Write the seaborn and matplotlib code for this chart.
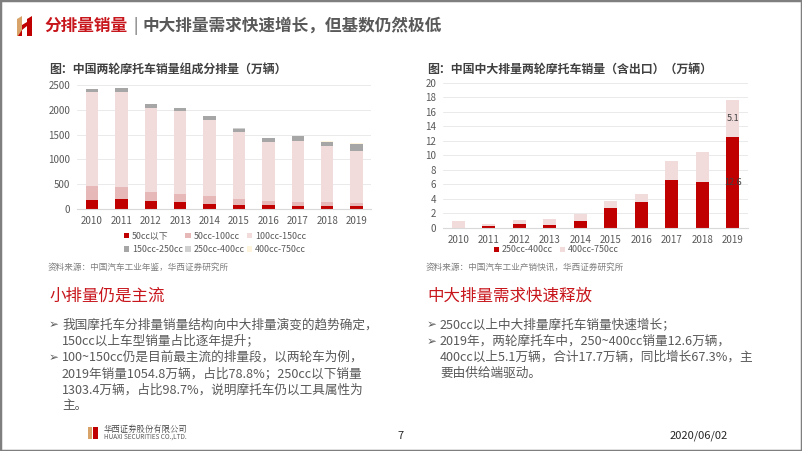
"""
华西证券 幻灯片第7页：中国两轮摩托车分排量销量 + 中大排量销量（含出口）。
两张堆叠柱状图用 seaborn.barplot 按累计值从上往下叠画。
"""
import numpy as np
import pandas as pd
import matplotlib
matplotlib.use("Agg")
import matplotlib.pyplot as plt
from matplotlib.patches import Patch, Rectangle, Polygon
import seaborn as sns

# ---- 数据（万辆，读图估计） ----
years = ["2010", "2011", "2012", "2013", "2014", "2015", "2016", "2017", "2018", "2019"]
cc_below50 = [180, 200, 170, 150, 110, 85, 75, 70, 60, 62]
cc_50_100 = [287, 253, 177, 143, 150, 115, 85, 77, 73, 60]
cc_100_150 = [1900, 1914, 1693, 1674, 1540, 1353, 1200, 1226, 1134, 1054.8]
cc_150_250 = [45, 65, 75, 68, 68, 68, 72, 92, 85, 126.6]
cc_250_400 = [0.0, 0.3, 0.6, 0.4, 0.9, 2.8, 3.6, 6.6, 6.3, 12.6]
cc_400_750 = [1.0, 0.3, 0.55, 0.9, 1.0, 0.9, 1.1, 2.7, 4.2, 5.1]

left_names = ["50cc以下", "50cc-100cc", "100cc-150cc", "150cc-250cc", "250cc-400cc", "400cc-750cc"]
left_colors = ["#C00000", "#E6B9B8", "#F2DCDB", "#A6A6A6", "#D0D0D0", "#FFF5DC"]
right_names = ["250cc-400cc", "400cc-750cc"]
right_colors = ["#C00000", "#F2DCDB"]
label_years = ["2019"]

sns.set_theme(style="white")
plt.rcParams["font.family"] = ["Noto Sans CJK SC", "DejaVu Sans"]

W, H = 802, 451
fig = plt.figure(figsize=(W / 100, H / 100), dpi=100)
fig.patch.set_facecolor("white")

DARK = "#404040"
GRAY = "#595959"
RED = "#C8161D"


def fx(x):
    return x / W


def fy(y):
    return 1 - y / H


def add_axes_px(left, top, right, bottom):
    return fig.add_axes([fx(left), fy(bottom), fx(right - left), (bottom - top) / H])


def stacked(ax, layers, colors):
    """layers: 自下而上的序列列表；按累计值从最高层开始画。"""
    cum = np.cumsum(np.array(layers, dtype=float), axis=0)
    for i in range(len(layers) - 1, -1, -1):
        d = pd.DataFrame({"year": years, "v": cum[i]})
        sns.barplot(data=d, x="year", y="v", color=colors[i], saturation=1,
                    width=0.42, linewidth=0, ax=ax, errorbar=None)
    return cum


def style_axes(ax, ylim, step):
    ax.set_ylim(*ylim)
    ax.set_xlim(-0.5, len(years) - 0.5)
    ax.set_yticks(np.arange(ylim[0], ylim[1] + step / 2, step))
    ax.yaxis.grid(True, color="#E6E6E6", linewidth=0.6)
    ax.set_axisbelow(True)
    for s in ["top", "right", "left"]:
        ax.spines[s].set_visible(False)
    ax.spines["bottom"].set_color("#D9D9D9")
    ax.spines["bottom"].set_linewidth(0.8)
    ax.tick_params(axis="both", length=0, labelsize=7, labelcolor=GRAY, pad=5)
    ax.set_xlabel("")
    ax.set_ylabel("")


# ---- 左图 ----
ax1 = add_axes_px(77.3, 85, 371.3, 209)
stacked(ax1, [cc_below50, cc_50_100, cc_100_150, cc_150_250, cc_250_400, cc_400_750], left_colors)
style_axes(ax1, (0, 2500), 500)

h = [Patch(facecolor=c, edgecolor="none") for c in left_colors]
order = [0, 3, 1, 4, 2, 5]  # 按行排列：3 列 x 2 行
fig.legend([h[i] for i in order], [left_names[i] for i in order], ncol=3,
           loc="center", bbox_to_anchor=(fx(215), fy(243)), frameon=False,
           fontsize=6.4, labelcolor=GRAY, handlelength=0.6, handleheight=0.6,
           handletextpad=0.3, columnspacing=0.3, labelspacing=0.55)

# ---- 右图 ----
ax2 = add_axes_px(443, 83, 748, 228)
cum2 = stacked(ax2, [cc_250_400, cc_400_750], right_colors)
style_axes(ax2, (0, 20), 2)
for yr in label_years:
    i = years.index(yr)
    ax2.text(i, cc_250_400[i] / 2, f"{cc_250_400[i]:.1f}", ha="center", va="center",
             fontsize=6.5, color=DARK)
    ax2.text(i, cc_250_400[i] + cc_400_750[i] / 2, f"{cc_400_750[i]:.1f}", ha="center",
             va="center", fontsize=6.5, color=DARK)

h2 = [Patch(facecolor=c, edgecolor="none") for c in right_colors]
fig.legend(h2, right_names, ncol=2, loc="center", bbox_to_anchor=(fx(556), fy(250)),
           frameon=False, fontsize=6.4, labelcolor=GRAY, handlelength=0.6,
           handleheight=0.6, handletextpad=0.3, columnspacing=0.8)

# ---- 页眉 ----
# 简化的 “H” 标志：金色左柱 + 红色右柱 + 斜横梁
fig.patches.append(Polygon([(fx(17), fy(36)), (fx(22), fy(36)), (fx(22), fy(16)), (fx(17), fy(19))],
                           closed=True, transform=fig.transFigure, fc="#D9A46A", ec="none"))
fig.patches.append(Polygon([(fx(22), fy(30)), (fx(27), fy(26)), (fx(27), fy(22)), (fx(22), fy(25))],
                           closed=True, transform=fig.transFigure, fc="#C00000", ec="none"))
fig.patches.append(Polygon([(fx(27), fy(36)), (fx(32), fy(36)), (fx(32), fy(16)), (fx(27), fy(19))],
                           closed=True, transform=fig.transFigure, fc="#C00000", ec="none"))
fig.patches.append(Polygon([(fx(18), fy(36)), (fx(22), fy(36)), (fx(22), fy(30))],
                           closed=True, transform=fig.transFigure, fc="#C00000", ec="none"))
fig.text(fx(44), fy(26), "分排量销量", fontsize=12, fontweight="bold", color=RED, va="center")
fig.text(fx(133), fy(26), "|", fontsize=11, color=GRAY, va="center")
fig.text(fx(142), fy(26), "中大排量需求快速增长，但基数仍然极低", fontsize=12,
         fontweight="bold", color=GRAY, va="center")

# ---- 图标题 / 来源 ----
fig.text(fx(49), fy(69), "图：中国两轮摩托车销量组成分排量（万辆）", fontsize=8.6,
         fontweight="bold", color=DARK, va="center")
fig.text(fx(427), fy(69), "图：中国中大排量两轮摩托车销量（含出口）（万辆）", fontsize=8.6,
         fontweight="bold", color=DARK, va="center")
fig.text(fx(48), fy(267), "资料来源：中国汽车工业年鉴，华西证券研究所", fontsize=6.2,
         style="italic", color="#7F7F7F", va="center")
fig.text(fx(426), fy(267), "资料来源：中国汽车工业产销快讯，华西证券研究所", fontsize=6.2,
         style="italic", color="#7F7F7F", va="center")

# ---- 小标题与正文 ----
fig.text(fx(49), fy(296), "小排量仍是主流", fontsize=11.9, color=RED, va="center")
fig.text(fx(427), fy(296), "中大排量需求快速释放", fontsize=11.9, color=RED, va="center")

left_body = [
    ("➢", "我国摩托车分排量销量结构向中大排量演变的趋势确定，"),
    ("", "150cc以上车型销量占比逐年提升；"),
    ("➢", "100~150cc仍是目前最主流的排量段，以两轮车为例，"),
    ("", "2019年销量1054.8万辆，占比78.8%；250cc以下销量"),
    ("", "1303.4万辆，占比98.7%，说明摩托车仍以工具属性为"),
    ("", "主。"),
]
right_body = [
    ("➢", "250cc以上中大排量摩托车销量快速增长；"),
    ("➢", "2019年，两轮摩托车中，250~400cc销量12.6万辆，"),
    ("", "400cc以上5.1万辆，合计17.7万辆，同比增长67.3%，主"),
    ("", "要由供给端驱动。"),
]
for x0, rows in [(49, left_body), (427, right_body)]:
    for k, (bullet, line) in enumerate(rows):
        y = 325 + 16.2 * k
        if bullet:
            fig.text(fx(x0), fy(y), bullet, fontsize=8.5, color=GRAY, va="center")
        fig.text(fx(x0 + 13), fy(y), line, fontsize=9.1, color=GRAY, va="center")

# ---- 页脚 ----
fig.patches.append(Rectangle((fx(88), fy(439)), fx(4), 12 / H, transform=fig.transFigure,
                             fc="#D9A46A", ec="none"))
fig.patches.append(Rectangle((fx(93), fy(439)), fx(5), 12 / H, transform=fig.transFigure,
                             fc="#C00000", ec="none"))
fig.text(fx(104), fy(429), "华西证券股份有限公司", fontsize=6, color=DARK, va="center",
         family=["Noto Serif CJK SC", "Noto Sans CJK SC", "DejaVu Sans"])
fig.text(fx(104), fy(437), "HUAXI SECURITIES CO.,LTD.", fontsize=4.6, color=GRAY, va="center")
fig.text(fx(401), fy(436), "7", fontsize=8, color="#262626", ha="center", va="center")
fig.text(fx(699), fy(436), "2020/06/02", fontsize=8, color="#262626", ha="center", va="center")

# 幻灯片边框
fig.patches.append(Rectangle((0, 0), 1, 1, transform=fig.transFigure, fill=False,
                             ec="#7F7F7F", lw=2.5))

fig.savefig("out.png", dpi=100)
